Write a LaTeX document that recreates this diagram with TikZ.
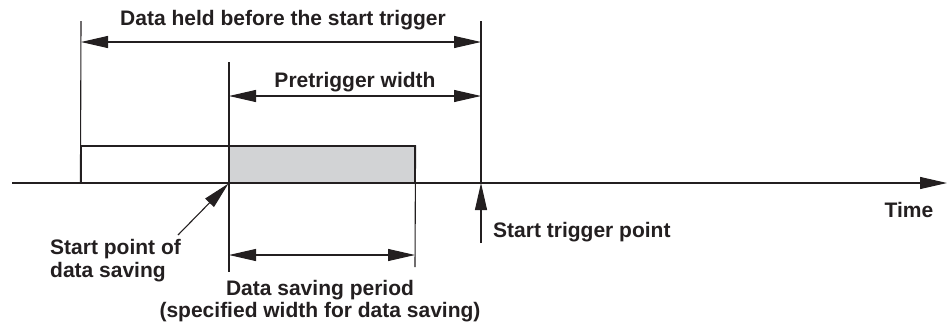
\documentclass[tikz,border=0pt]{standalone}
\usepackage{fontspec}
\setmainfont{Liberation Sans}
\usetikzlibrary{arrows.meta}
\definecolor{inkc}{RGB}{35,31,32}
\definecolor{savegray}{RGB}{210,211,213}

\begin{document}
\begin{tikzpicture}
        [x=1pt, y=-1pt,
        txt/.style={font=\fontsize{21}{23}\selectfont\bfseries, text=inkc, inner sep=0pt},
        guide/.style={inkc, line width=1.1pt},
        dim/.style={inkc, line width=1.1pt, {Triangle[length=27pt,width=12pt]}-{Triangle[length=27pt,width=12pt]}},
        point/.style={inkc, line width=1.1pt, -{Triangle[length=27pt,width=12pt]}},
        box/.style={draw=inkc, line width=1.1pt, minimum height=37pt, inner sep=0pt}]

        \useasboundingbox (0,0) rectangle (948,327);

        % data boxes
        \node[box, minimum width=148pt] (held) at (155,164.5) {};
        \node[box, fill=savegray, minimum width=186pt] (saved) at (322,164.5) {};

        % points on the time axis
        \coordinate (a0) at (12,183);
        \coordinate (a1) at (947,183);
        \coordinate (h0) at (81,21);
        \coordinate (h1) at (81,42);
        \coordinate (s0) at (229,62);
        \coordinate (s1) at (229,96);
        \coordinate (s2) at (229,255);
        \coordinate (s3) at (229,272);
        \coordinate (e0) at (415,255);
        \coordinate (e1) at (415,267);
        \coordinate (t0) at (481,21);
        \coordinate (t1) at (481,42);
        \coordinate (t2) at (481,96);
        \coordinate (t3) at (481,183);
        \coordinate (t4) at (481,243);
        \coordinate (sp) at (178,235);

        % vertical guide lines
        \draw[guide] (h0) -- (held.south west);
        \draw[guide] (s0) -- (s3);
        \draw[guide] (saved.north east) -- (e1);
        \draw[guide] (t0) -- (t3);

        % time axis
        \draw[point] (a0) -- (a1);

        % widths
        \draw[dim] (h1) -- (t1);
        \draw[dim] (s1) -- (t2);
        \draw[dim] (s2) -- (e0);

        % pointers
        \draw[point] (sp) -- (saved.south west);
        \draw[point] (t4) -- (t3);

        % labels
        \node[txt, anchor=base] (heldlbl) at (283,25) {Data held before the start trigger};
        \node[txt, anchor=base] (prelbl) at (355,87) {Pretrigger width};
        \node[txt, anchor=base west] (triglbl) at (493,237) {Start trigger point};
        \node[txt, anchor=base] (timelbl) at (909,217) {Time};
        \node[txt, anchor=base west] (splbl) at (50,254) {Start point of};
        \node[txt, anchor=base west] (splbl2) at (50,277) {data saving};
        \node[txt, anchor=base] (savelbl) at (320,295) {Data saving period};
        \node[txt, anchor=base] (savelbl2) at (320,317) {(specified width for data saving)};

\end{tikzpicture}
\end{document}
